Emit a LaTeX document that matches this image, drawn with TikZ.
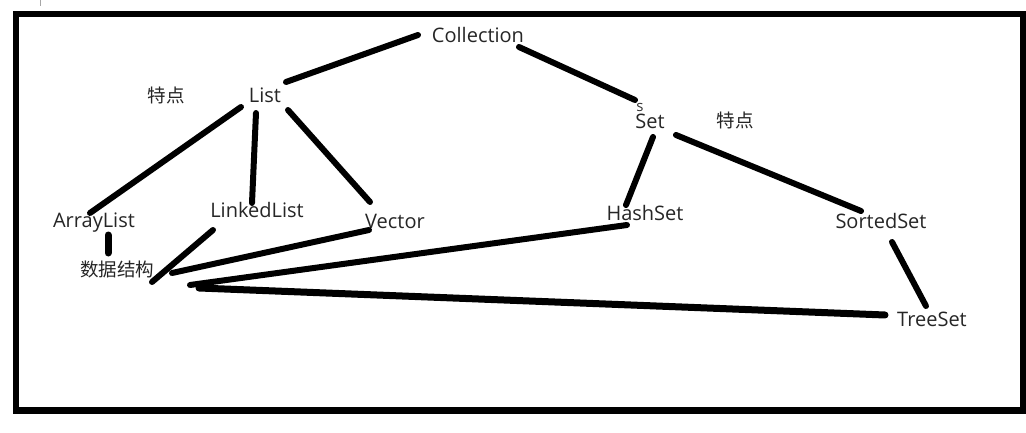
\documentclass[tikz,border=0pt]{standalone}
\usepackage{fontspec}
\setmainfont{Open Sans}
\newfontfamily\cjk{Noto Sans CJK SC}
\tikzset{
  lbl/.style={inner sep=0pt, anchor=base, font=\fontsize{20}{20}\selectfont, text=black!85},
  zh/.style={inner sep=0pt, anchor=center, font=\cjk\fontsize{18.5}{18.5}\selectfont, text=black!85},
  stroke/.style={line width=6pt, line cap=round, black},
  frame/.style={line width=6.5pt, black}
}
\begin{document}
\begin{tikzpicture}[x=1pt,y=-1pt]
\useasboundingbox (0,0) rectangle (1026,433);
\fill[white] (0,0) rectangle (1026,433);
\draw[frame] (16,14) rectangle (1023,410.5);
\draw[gray!70, line width=0.8pt] (40,0) -- (40,6);
% nodes
\node[lbl] (coll) at (478,43) {Collection};
\node[lbl] (list) at (265,103) {List};
\node[lbl] (set) at (650,129) {Set};
\node[inner sep=0pt, font=\fontsize{15}{15}\selectfont, text=black!80] (s) at (640,107.5) {s};
\node[zh] (tdl) at (166,95) {特点};
\node[zh] (tdr) at (735,120) {特点};
\node[lbl] (al) at (94,227) {ArrayList};
\node[lbl] (ll) at (257,218) {LinkedList};
\node[lbl] (vec) at (395,228) {Vector};
\node[lbl] (hs) at (645,220) {HashSet};
\node[lbl] (ss) at (881,229) {SortedSet};
\node[lbl] (ts) at (932,326) {TreeSet};
\node[zh] (sj) at (117,269) {数据结构};
% connector end points
\coordinate (a1) at (418,35);  \coordinate (a2) at (286,82);
\coordinate (b1) at (519,47);  \coordinate (b2) at (635,100);
\coordinate (c1) at (241,107); \coordinate (c2) at (90,213);
\coordinate (d1) at (256,113); \coordinate (d2) at (252,203);
\coordinate (e1) at (288,110); \coordinate (e2) at (370,202);
\coordinate (f1) at (108,235); \coordinate (f2) at (108,253);
\coordinate (g1) at (213,230); \coordinate (g2) at (152,282);
\coordinate (h1) at (369,230); \coordinate (h2) at (172,273);
\coordinate (i1) at (627,225); \coordinate (i2) at (190,285);
\coordinate (j1) at (885,315); \coordinate (j2) at (199,288);
\coordinate (k1) at (653,137); \coordinate (k2) at (626,205);
\coordinate (l1) at (676,135); \coordinate (l2) at (861,211);
\coordinate (m1) at (892,242); \coordinate (m2) at (926,306);
\draw[stroke] (a1) -- (a2);
\draw[stroke] (b1) -- (b2);
\draw[stroke] (c1) -- (c2);
\draw[stroke] (d1) -- (d2);
\draw[stroke] (e1) -- (e2);
\draw[stroke, line width=7pt] (f1) -- (f2);
\draw[stroke] (g1) -- (g2);
\draw[stroke] (h1) -- (h2);
\draw[stroke] (i1) -- (i2);
\draw[stroke, line width=7pt] (j1) -- (j2);
\draw[stroke] (k1) -- (k2);
\draw[stroke] (l1) -- (l2);
\draw[stroke] (m1) -- (m2);
\end{tikzpicture}
\end{document}
